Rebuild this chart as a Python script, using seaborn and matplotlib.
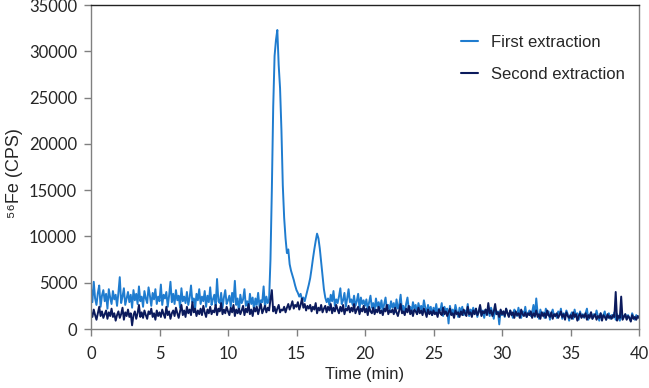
import numpy as np
import pandas as pd
import matplotlib
matplotlib.use("Agg")
import matplotlib.pyplot as plt
import seaborn as sns

# Time axis: 0.0 .. 40.0 min, step 0.1 min
time_min = [round(i * 0.1, 1) for i in range(401)]

first_extraction = [
    4400, 2900, 5100, 3300, 2600, 3900, 4700, 2400, 3600, 4200,
    3000, 3800, 2200, 4300, 3400, 2700, 4100, 3200, 3700, 2500,
    3900, 5600, 2800, 3500, 4400, 2600, 3300, 4000, 2900, 3700,
    2300, 4200, 3100, 3800, 2700, 4600, 3000, 3500, 2400, 4100,
    3300, 2800, 4500, 3600, 2500, 3900, 3200, 4300, 2700, 3500,
    3000, 4800, 2600, 3700, 3300, 4000, 2400, 3600, 5100, 2900,
    3800, 2700, 4200, 3100, 3600, 2300, 4400, 3000, 3500, 2800,
    4000, 2600, 3400, 4700, 2900, 3300, 2200, 3800, 3100, 4300,
    2700, 3500, 3000, 4100, 2400, 3600, 2900, 4500, 2600, 3200,
    3700, 2500, 5400, 3000, 2800, 3900, 2300, 3400, 4200, 2700,
    3100, 3600, 2400, 3900, 2900, 5200, 2600, 3300, 1800, 3700,
    2800, 3200, 4300, 2500, 3000, 2200, 3800, 2700, 3400, 2000,
    3300, 2600, 3900, 2400, 3100, 2900, 4600, 2300, 3500, 2800,
    3200, 7500, 15000, 24000, 29500, 31200, 32300, 28500, 26000, 21500,
    15500, 12000, 9800, 8200, 8600, 7000, 6300, 5800, 5300, 4700,
    4200, 3900, 3500, 3800, 3200, 3400, 3000, 3600, 4200, 4800,
    5500, 6500, 7600, 8600, 9500, 10300, 9800, 8700, 7200, 5600,
    4300, 3400, 2900, 3300, 2600, 3700, 3000, 4100, 2500, 3200,
    2800, 3500, 4400, 2700, 3100, 3900, 2400, 3300, 4300, 2900,
    3200, 2600, 3600, 2500, 3000, 3800, 2200, 3400, 2700, 3100,
    2500, 3200, 2100, 2900, 3600, 2300, 2800, 2000, 3300, 2400,
    2900, 2200, 3100, 1900, 2700, 3400, 2100, 2600, 2000, 3000,
    2300, 2800, 1800, 3200, 2200, 2600, 3700, 2000, 2500, 1700,
    2700, 3400, 2100, 2400, 1800, 2900, 2200, 2600, 1600, 2800,
    2100, 2500, 1900, 3100, 2300, 1700, 2600, 2000, 2400, 1500,
    2300, 1800, 2700, 1600, 2200, 2000, 2800, 1400, 2400, 1900,
    2200, 600, 2500, 1700, 2100, 1500, 2600, 1900, 1300, 2300,
    1800, 2400, 1500, 2000, 1700, 2700, 1400, 2100, 1800, 2300,
    1600, 2200, 1300, 1900, 2500, 1500, 2000, 1200, 2100, 1700,
    2000, 1400, 2300, 1800, 1100, 2200, 1600, 1900, 500, 2000,
    1500, 1900, 1300, 2200, 1700, 1400, 2000, 1600, 1200, 2100,
    1800, 1400, 2300, 1600, 1200, 1900, 1500, 2400, 1300, 1700,
    2000, 1400, 1800, 2600, 1300, 3300, 1700, 1100, 2100, 1500,
    1800, 1200, 2200, 1500, 1900, 1000, 1700, 2100, 1400, 1600,
    1200, 1900, 1500, 2200, 1100, 1700, 1300, 2000, 1600, 900,
    1500, 1800, 1100, 2100, 1400, 1700, 1000, 1900, 1300, 1600,
    1200, 1700, 2200, 1000, 1500, 1800, 1100, 1600, 1300, 2000,
    1400, 900, 1700, 1200, 1500, 1900, 1000, 1400, 1700, 1100,
    1500, 1200, 1800, 1000, 1600, 1300, 900, 1700, 1100, 1400,
    1600, 1100, 1500, 1200, 900, 1700, 1300, 1000, 1500, 1200,
    1400,
]

second_extraction = [
    1800, 1300, 2100, 1500, 1000, 1700, 2400, 1400, 1900, 1200,
    1600, 2000, 1100, 1800, 1400, 2200, 1300, 1700, 900, 1500,
    1900, 1200, 1600, 2300, 1000, 1800, 1400, 2100, 1300, 1700,
    400, 1500, 1900, 1100, 1700, 2600, 1300, 1800, 1200, 2000,
    1500, 1100, 1900, 1600, 2200, 1300, 1700, 1000, 2000, 1400,
    1800, 1300, 2100, 1600, 1200, 2400, 1500, 1900, 1100, 1700,
    2000, 1400, 2300, 1700, 1200, 1900, 2600, 1500, 2000, 1300,
    2400, 1700, 2100, 1500, 2900, 1800, 2200, 1400, 2000, 1600,
    2200, 1500, 2500, 1800, 1300, 2100, 1700, 2400, 1600, 2000,
    1800, 2600, 1500, 2200, 1900, 2800, 1600, 2100, 1700, 2400,
    1900, 1500, 2300, 1800, 2600, 1400, 2100, 1700, 2200, 1600,
    2000, 2500, 1500, 2200, 1800, 2700, 1600, 2100, 1400, 2300,
    1900, 2400, 1600, 2200, 2700, 1700, 2100, 2500, 1800, 2300,
    2000, 3200, 4200, 1900, 2400, 1700, 2200, 2600, 1800, 2100,
    2000, 2400, 1800, 2300, 2700, 2100, 2500, 3000, 2200, 2600,
    2400, 2900, 2100, 2600, 3300, 2300, 2700, 2000, 2500, 2200,
    2600, 1900, 2400, 2100, 2800, 1700, 2300, 2000, 2600, 1800,
    2200, 2500, 1800, 2400, 2000, 2700, 1700, 2300, 1900, 2600,
    2100, 1700, 2400, 1900, 2600, 1600, 2200, 2000, 2500, 1800,
    2300, 1900, 2700, 1700, 2100, 2400, 1600, 2200, 1900, 2500,
    1800, 2200, 1500, 2400, 1900, 1700, 2300, 1600, 2100, 1800,
    2400, 1700, 2000, 1500, 2200, 1900, 2600, 1600, 2000, 1800,
    2100, 1600, 2300, 1800, 1400, 2000, 2700, 1700, 1900, 1500,
    2200, 1800, 2500, 1600, 2000, 1400, 2100, 1900, 1600, 2300,
    1700, 2000, 1500, 2200, 1800, 1300, 2100, 1600, 1900, 1500,
    2000, 1600, 1800, 1300, 2100, 1700, 1500, 2300, 1600, 1900,
    1400, 1800, 2200, 1500, 1700, 1200, 2000, 1600, 1800, 1300,
    1900, 1500, 2100, 1700, 1400, 2400, 1600, 1800, 1300, 2000,
    1600, 2200, 1500, 1800, 2600, 1400, 1900, 1700, 2100, 1500,
    2800, 1700, 2000, 1400, 1900, 2700, 1600, 1800, 1300, 2100,
    1600, 1900, 1400, 2200, 1700, 1300, 2000, 1500, 1800, 1200,
    1900, 1500, 1700, 1200, 2100, 1600, 1400, 1800, 1300, 1700,
    1500, 1900, 1200, 1700, 1400, 2000, 1300, 1600, 1100, 1800,
    1400, 1700, 1200, 2000, 1500, 1300, 1800, 1100, 1600, 1400,
    1700, 1200, 1500, 1900, 1300, 1600, 1000, 1800, 1400, 1200,
    1500, 1100, 1800, 1300, 1600, 900, 1400, 1700, 1200, 1500,
    1300, 1700, 1000, 1500, 1200, 1800, 1100, 1400, 1600, 1000,
    1400, 1200, 1700, 900, 1500, 1300, 1000, 1600, 1200, 1400,
    1100, 1500, 1300, 4000, 900, 1400, 1200, 3500, 1000, 1300,
    1600, 1000, 1400, 1200, 800, 1500, 1100, 1300, 1000, 1400,
    1200,
]

series_names = ["First extraction", "Second extraction"]
series_colors = ["#1f7ccf", "#0b1a5c"]
x_ticks = [0, 5, 10, 15, 20, 25, 30, 35, 40]
y_ticks = [0, 5000, 10000, 15000, 20000, 25000, 30000, 35000]

df = pd.concat([
    pd.DataFrame({"Time": time_min, "CPS": first_extraction, "Series": series_names[0]}),
    pd.DataFrame({"Time": time_min, "CPS": second_extraction, "Series": series_names[1]}),
], ignore_index=True)

sns.set_theme(style="white")
plt.rcParams["font.family"] = ["Liberation Sans", "DejaVu Sans"]

fig = plt.figure(figsize=(6.49, 3.88), dpi=100)
ax = fig.add_axes([91 / 649, 59 / 388, 548 / 649, 324 / 388])

sns.lineplot(data=df, x="Time", y="CPS", hue="Series", hue_order=series_names,
             palette=series_colors, linewidth=1.4, ax=ax, legend=True,
             estimator=None, sort=False)

ax.set_xlim(0, 40)
ax.set_ylim(0, 35000)
ax.set_xticks(x_ticks)
ax.set_yticks(y_ticks)
ax.set_xticklabels([str(t) for t in x_ticks], fontfamily="Lato", fontsize=12)
ax.set_yticklabels([str(t) for t in y_ticks], fontfamily="Lato", fontsize=12)
ax.tick_params(axis="x", which="both", direction="out", length=5, width=1,
               color="#808080", pad=7, bottom=True)
ax.tick_params(axis="y", which="both", direction="out", length=5, width=1,
               color="#808080", pad=5, left=True)

for side in ["left", "bottom", "right"]:
    ax.spines[side].set_color("#808080")
    ax.spines[side].set_linewidth(1.0)
ax.spines["top"].set_color("#222222")
ax.spines["top"].set_linewidth(1.0)

ax.set_xlabel("Time (min)", fontsize=12, labelpad=4)
ax.set_ylabel("\u2075\u2076Fe (CPS)", fontsize=13)
ax.yaxis.set_label_coords(-0.124, 0.48)

leg = ax.legend(loc="upper right", bbox_to_anchor=(1.002, 0.953), frameon=False,
                fontsize=12, handlelength=1.0, handletextpad=0.8, labelspacing=1.0)
for line in leg.get_lines():
    line.set_linewidth(1.5)

fig.savefig("out.png", dpi=100)
